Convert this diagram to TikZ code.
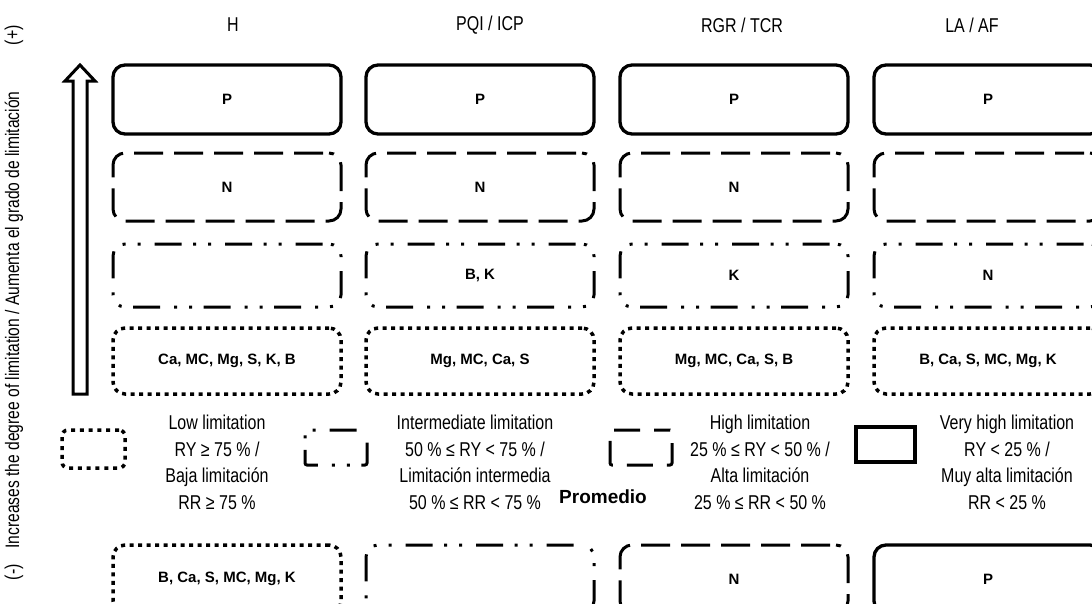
\documentclass[tikz,border=0pt]{standalone}
\usepackage{fontspec}
\setmainfont{Liberation Sans}[FakeStretch=0.8]
\newfontfamily\boxfont{Liberation Sans}
\begin{document}
\begin{tikzpicture}[x=1pt,y=-1pt,
    font=\fontsize{20}{22}\selectfont,
    limbox/.style={line width=3pt,rounded corners=12pt,minimum width=228pt,inner sep=0pt,
      font=\boxfont\bfseries\fontsize{15}{17}\selectfont},
    solidbox/.style={limbox,draw,line width=3.3pt},
    dashbox/.style={limbox,draw,dash pattern=on 29pt off 11pt,dash phase=-6pt},
    dashdotbox/.style={limbox,draw,dash pattern=on 27pt off 14pt on 3pt off 12pt on 3pt off 11.5pt,dash phase=64pt},
    dotbox/.style={limbox,draw,line width=3.5pt,dash pattern=on 4pt off 4.5pt},
    legendtxt/.style={align=center,inner sep=0pt,font=\fontsize{20}{26.5}\selectfont}]
    \useasboundingbox (0,0) rectangle (1092,603);
    \clip (0,0) rectangle (1092,603);

    % side labels
    \node[rotate=90] (plus) at (14,35) {(+)};
    \node[rotate=90,font=\fontsize{19.5}{22}\selectfont] (axis) at (14,320) {Increases the degree of limitation / Aumenta el grado de limitación};
    \node[rotate=90] (minus) at (14,572) {(-)};
    \draw[line width=3pt,line join=miter] (73,394) -- (73,81) -- (65,81) -- (80,65)
      -- (95,81) -- (87,81) -- (87,394) -- cycle;

    % H
    \node (hhead) at (233,25) {H};
    \node[solidbox,minimum height=69pt] (h1) at (227,99.5) {P};
    \node[dashbox,minimum height=68pt] (h2) at (227,187) {N};
    \node[dashdotbox,minimum height=63pt] (h3) at (227,275.5) {};
    \node[dotbox,minimum height=66pt] (h4) at (227,361) {Ca, MC, Mg, S, K, B};

    % PQI / ICP
    \node (pqihead) at (490,25) {PQI / ICP};
    \node[solidbox,minimum height=69pt] (pqi1) at (480,99.5) {P};
    \node[dashbox,minimum height=68pt] (pqi2) at (480,187) {N};
    \node[dashdotbox,minimum height=63pt] (pqi3) at (480,275.5) {B, K};
    \node[dotbox,minimum height=66pt] (pqi4) at (480,361) {Mg, MC, Ca, S};

    % RGR / TCR
    \node (rgrhead) at (742,25) {RGR / TCR};
    \node[solidbox,minimum height=69pt] (rgr1) at (734,99.5) {P};
    \node[dashbox,minimum height=68pt] (rgr2) at (734,187) {N};
    \node[dashdotbox,minimum height=63pt] (rgr3) at (734,275.5) {K};
    \node[dotbox,minimum height=66pt] (rgr4) at (734,361) {Mg, MC, Ca, S, B};

    % LA / AF
    \node (lahead) at (972,25) {LA / AF};
    \node[solidbox,minimum height=69pt] (la1) at (988,99.5) {P};
    \node[dashbox,minimum height=68pt] (la2) at (988,187) {};
    \node[dashdotbox,minimum height=63pt] (la3) at (988,275.5) {N};
    \node[dotbox,minimum height=66pt] (la4) at (988,361) {B, Ca, S, MC, Mg, K};

    % legend
    \node[dotbox,minimum width=63pt,minimum height=38pt,rounded corners=6pt,dash pattern=on 4pt off 4.8pt] (lowkey) at (93.5,449) {};
    \node[legendtxt] (lowtxt) at (217,462.5) {Low limitation\\RY ≥ 75 \% /\\Baja limitación\\RR ≥ 75 \%};
    \node[dashdotbox,minimum width=62pt,minimum height=35pt,rounded corners=2pt,dash phase=62pt] (midkey) at (336,447.5) {};
    \node[legendtxt] (midtxt) at (475,462.5) {Intermediate limitation\\50 \% ≤ RY < 75 \% /\\Limitación intermedia\\50 \% ≤ RR < 75 \%};
    \node[dashbox,minimum width=62pt,minimum height=35pt,rounded corners=2pt,dash pattern=on 26pt off 14pt,dash phase=-30pt] (highkey) at (641,447.5) {};
    \node[legendtxt] (hightxt) at (760,462.5) {High limitation\\25 \% ≤ RY < 50 \% /\\Alta limitación\\25 \% ≤ RR < 50 \%};
    \node[draw,line width=4pt,minimum width=59pt,minimum height=35pt,inner sep=0pt] (veryhighkey) at (885.5,444.5) {};
    \node[legendtxt] (veryhightxt) at (1007,462.5) {Very high limitation\\RY < 25 \% /\\Muy alta limitación\\RR < 25 \%};

    % Promedio
    \node[font=\boxfont\bfseries\fontsize{19}{21}\selectfont] (avg) at (603,497) {Promedio};
    \node[dotbox,minimum height=68pt] (avg1) at (227,579) {B, Ca, S, MC, Mg, K};
    \node[dashdotbox,minimum height=68pt,dash phase=62pt] (avg2) at (480,579) {};
    \node[dashbox,minimum height=68pt] (avg3) at (734,579) {N};
    \node[solidbox,minimum height=68pt] (avg4) at (988,579) {P};
\end{tikzpicture}
\end{document}
